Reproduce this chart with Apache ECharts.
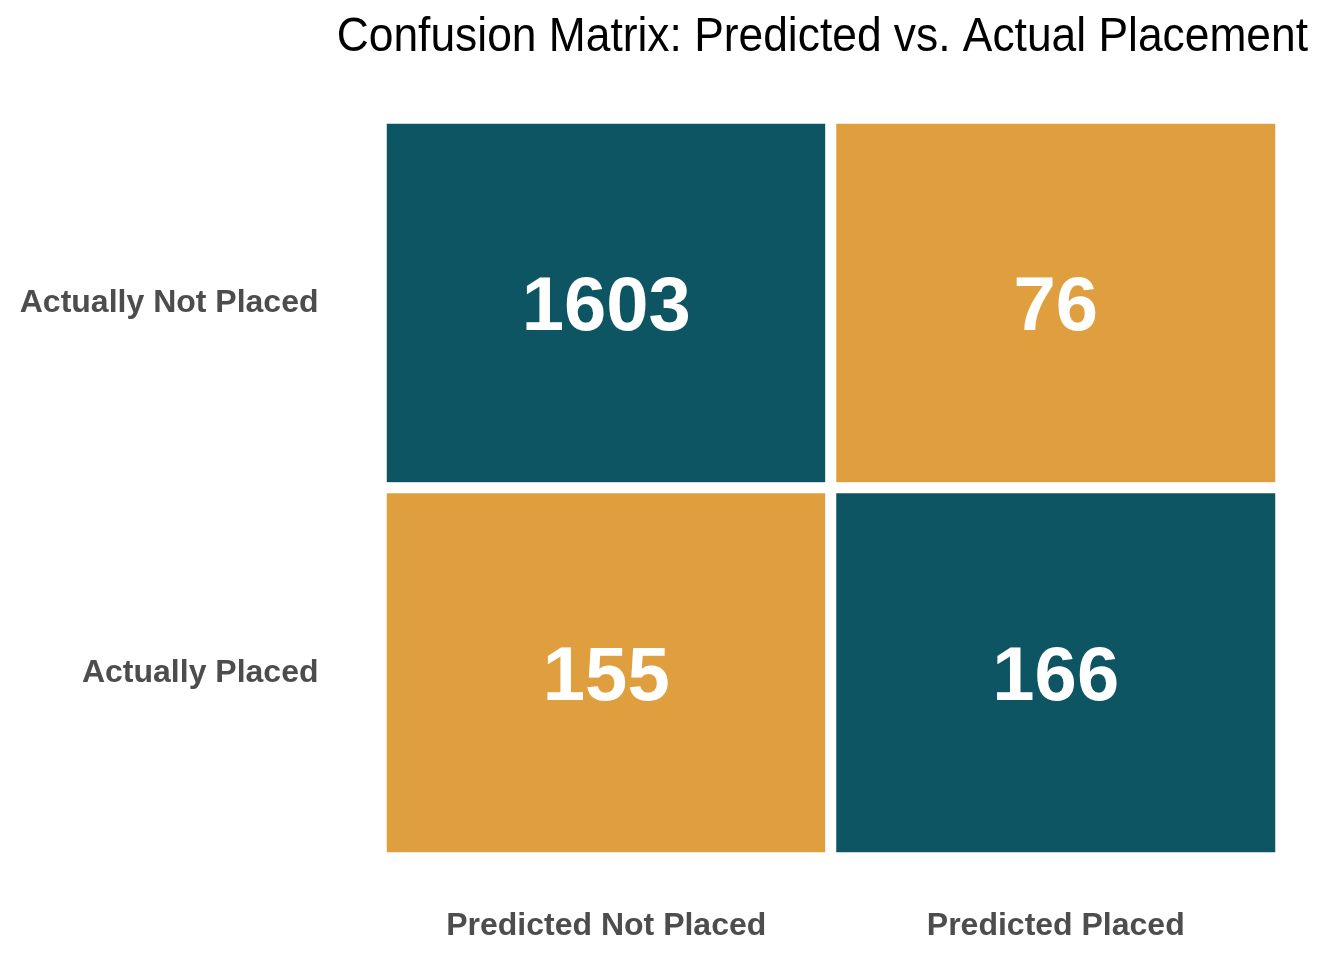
<!DOCTYPE html>
<html>
<head>
<meta charset="utf-8">
<script src="https://cdn.jsdelivr.net/npm/echarts@6/dist/echarts.min.js"></script>
<style>
  html, body { margin: 0; padding: 0; background: #fff; }
  #chart { width: 1344px; height: 960px; }
</style>
</head>
<body>
<div id="chart"></div>
<script>
// Confusion matrix values
var titleText = 'Confusion Matrix: Predicted vs. Actual Placement';
var predictedLabels = ['Predicted Not Placed', 'Predicted Placed'];
var actualLabels = ['Actually Not Placed', 'Actually Placed'];
// counts[row][col], row = actual, col = predicted
var counts = [
    [1603, 76],
    [155, 166]
];
var correctColor = '#0D5562';
var wrongColor = '#E09F3E';

var cells = [];
for (var r = 0; r < actualLabels.length; r++) {
    for (var c = 0; c < predictedLabels.length; c++) {
        cells.push({
            value: [c, r, counts[r][c]],
            itemStyle: { color: r == c ? correctColor : wrongColor }
        });
    }
}

var myChart = echarts.init(document.getElementById('chart'));
myChart.setOption({
    animation: false,
    backgroundColor: '#fff',
    // title drawn as graphic text so it can be squeezed a little (narrow sans look)
    graphic: [{
        type: 'text',
        x: 1308,
        y: 38,
        scaleX: 0.924,
        style: {
            text: titleText,
            font: 'normal 48px "Liberation Sans"',
            fill: '#000',
            textAlign: 'right',
            textVerticalAlign: 'middle'
        }
    }],
    grid: {
        left: 381.5,
        right: 63.5,
        top: 118.5,
        bottom: 102.5
    },
    xAxis: {
        type: 'category',
        data: predictedLabels,
        axisLine: { show: false },
        axisTick: { show: false },
        splitLine: { show: false },
        axisLabel: {
            margin: 53,
            fontFamily: 'Liberation Sans',
            fontSize: 32,
            fontWeight: 'bold',
            color: '#4D4D4D'
        }
    },
    yAxis: {
        type: 'category',
        data: actualLabels,
        inverse: true,
        axisLine: { show: false },
        axisTick: { show: false },
        splitLine: { show: false },
        axisLabel: {
            margin: 63,
            padding: [4, 0, 0, 0],
            fontFamily: 'Liberation Sans',
            fontSize: 32,
            fontWeight: 'bold',
            color: '#4D4D4D'
        }
    },
    series: [{
        type: 'heatmap',
        data: cells,
        itemStyle: {
            borderColor: '#fff',
            borderWidth: 11
        },
        label: {
            show: true,
            formatter: function(p) { return p.value[2]; },
            offset: [0, 6],
            fontFamily: 'Liberation Sans',
            fontSize: 76,
            fontWeight: 'bold',
            color: '#fff'
        },
        emphasis: { disabled: true }
    }]
});
</script>
</body>
</html>
